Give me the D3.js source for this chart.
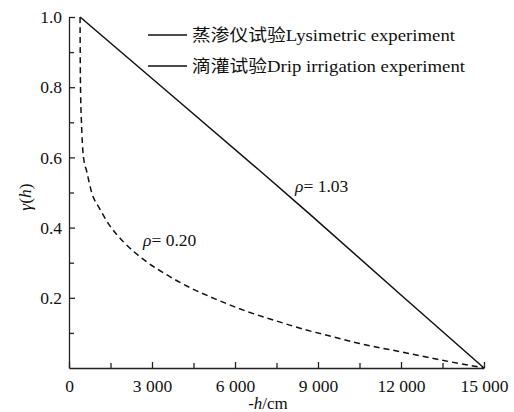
<!DOCTYPE html>
<html>
<head>
<meta charset="utf-8">
<script src="https://cdn.jsdelivr.net/npm/d3@7"></script>
<style>
  body { margin: 0; background: #fff; }
  svg text { font-family: "Liberation Serif", "Times New Roman", Times, "DejaVu Serif", "Noto Sans CJK SC", serif; fill: #111; }
</style>
</head>
<body>
<div id="chart"></div>
<script>
// Lysimetric experiment, rho = 1.03 (suction -h in cm, gamma)
var lysi_h = [400, 3890, 6900, 8650, 12000, 15000];
var lysi_g = [1.0, 0.765, 0.562, 0.442, 0.208, 0.0];

// Drip irrigation experiment, rho = 0.20
var drip_h = [400, 405, 420, 450, 518, 650, 820, 1100, 1480, 2000, 2680, 3500, 4400, 5340, 6400, 7500, 8500, 9430, 10500, 12200, 13500, 15000];
var drip_g = [1.0, 0.9, 0.78, 0.7, 0.605, 0.557, 0.5, 0.455, 0.405, 0.357, 0.31, 0.267, 0.228, 0.195, 0.162, 0.134, 0.11, 0.091, 0.07, 0.043, 0.022, 0.0];

var x_major = [0, 3000, 6000, 9000, 12000, 15000];
var x_minor = [1500, 4500, 7500, 10500, 13500];
var y_major = [0.2, 0.4, 0.6, 0.8, 1.0];
var y_minor = [0.1, 0.3, 0.5, 0.7, 0.9];

var legend_labels = ['蒸渗仪试验Lysimetric experiment', '滴灌试验Drip irrigation experiment'];
var legend_widths = [263, 273];

var width = 514, height = 412;
var margin = {left: 69, right: 30, top: 17, bottom: 44};
var serif = '"Liberation Serif", "Times New Roman", Times, "DejaVu Serif", serif';

var svg = d3.select('#chart').append('svg')
            .attr('width', width)
            .attr('height', height);

var x = d3.scaleLinear().domain([0, 15000]).range([margin.left, width - margin.right]);
var y = d3.scaleLinear().domain([0, 1.0]).range([height - margin.bottom, margin.top]);

// number format with a space as thousands separator
var locale = d3.formatLocale({decimal: '.', thousands: ' ', grouping: [3], currency: ['', '']});
var fmt_x = locale.format(',');

// x axis
var x_axis = svg.append('g')
                .attr('transform', 'translate(0,' + y(0) + ')')
                .call(d3.axisBottom(x).tickValues(x_major).tickSizeInner(-6).tickSizeOuter(0)
                        .tickPadding(12).tickFormat(fmt_x));
svg.append('g')
   .attr('transform', 'translate(0,' + y(0) + ')')
   .call(d3.axisBottom(x).tickValues(x_minor).tickSizeInner(-5).tickSizeOuter(0).tickFormat(''))
   .select('.domain').remove();

// y axis
var y_axis = svg.append('g')
                .attr('transform', 'translate(' + x(0) + ',0)')
                .call(d3.axisLeft(y).tickValues(y_major).tickSizeInner(-6).tickSizeOuter(0)
                        .tickPadding(7).tickFormat(d3.format('.1f')));
svg.append('g')
   .attr('transform', 'translate(' + x(0) + ',0)')
   .call(d3.axisLeft(y).tickValues(y_minor).tickSizeInner(-5).tickSizeOuter(0).tickFormat(''))
   .select('.domain').remove();

svg.selectAll('g').attr('font-family', null);
svg.selectAll('.domain, .tick line').attr('stroke', '#222').attr('stroke-width', 1.3);
svg.selectAll('.tick text').style('font-size', '17.5px').style('font-family', serif).attr('fill', '#111');
x_axis.selectAll('.tick text').attr('dy', '0.71em');

// axis titles
var x_title = svg.append('text')
                 .attr('x', 268)
                 .attr('y', 409)
                 .attr('text-anchor', 'middle')
                 .style('font-size', '17px');
x_title.append('tspan').text('-');
x_title.append('tspan').style('font-style', 'italic').text('h');
x_title.append('tspan').text('/cm');

var y_title = svg.append('text')
                 .attr('transform', 'translate(31,197) rotate(-90)')
                 .attr('text-anchor', 'middle')
                 .style('font-size', '17.5px')
                 .style('font-style', 'italic');
y_title.append('tspan').text('γ');
y_title.append('tspan').style('font-style', 'normal').text('(');
y_title.append('tspan').text('h');
y_title.append('tspan').style('font-style', 'normal').text(')');

// curves
svg.append('path')
   .datum(d3.zip(lysi_h, lysi_g))
   .attr('fill', 'none')
   .attr('stroke', '#111')
   .attr('stroke-width', 1.5)
   .attr('d', d3.line().x(function(d) { return x(d[0]); }).y(function(d) { return y(d[1]); }));

svg.append('path')
   .datum(d3.zip(drip_h, drip_g))
   .attr('fill', 'none')
   .attr('stroke', '#111')
   .attr('stroke-width', 1.5)
   .attr('stroke-dasharray', '6,4')
   .attr('d', d3.line().x(function(d) { return x(d[0]); }).y(function(d) { return y(d[1]); }).curve(d3.curveMonotoneX));

// rho labels
function rhoLabel(px, py, value) {
  var t = svg.append('text').attr('x', px).attr('y', py).style('font-size', '17.5px');
  t.append('tspan').style('font-style', 'italic').text('ρ');
  t.append('tspan').text('= ' + value);
}
rhoLabel(295, 192, '1.03');
rhoLabel(143, 246, '0.20');

// legend
var legend = svg.append('g').attr('class', 'legend');
legend_labels.forEach(function(label, i) {
  var ly = 35 + 31 * i;
  legend.append('line')
        .attr('x1', 148).attr('x2', 187)
        .attr('y1', ly).attr('y2', ly)
        .attr('stroke', '#111')
        .attr('stroke-width', 1.5);
  legend.append('text')
        .attr('x', 192)
        .attr('y', ly + 6)
        .attr('textLength', legend_widths[i])
        .attr('lengthAdjust', 'spacingAndGlyphs')
        .style('font-size', '17px')
        .text(label);
});
</script>
</body>
</html>
